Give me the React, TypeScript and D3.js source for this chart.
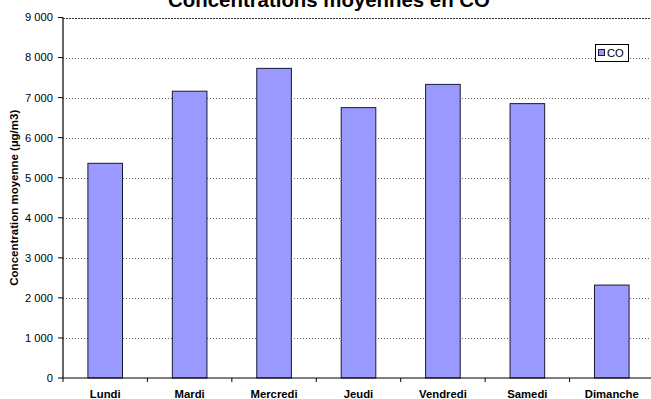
import React from "react";
import * as d3 from "d3";

// Average CO concentration per weekday (µg/m3)
const days = ["Lundi", "Mardi", "Mercredi", "Jeudi", "Vendredi", "Samedi", "Dimanche"];
const coValues = [5360, 7160, 7730, 6750, 7330, 6850, 2320];
const yTicks = [0, 1000, 2000, 3000, 4000, 5000, 6000, 7000, 8000, 9000];
const seriesName = "CO";
const titleText = "Concentrations moyennes en CO";
const yLabel = "Concentration moyenne (µg/m3)";

const W = 651;
const H = 399;
const FONT = "'Liberation Sans', Arial, sans-serif";
const BAR_FILL = "#9999FF";

const fr = d3.formatLocale({ decimal: ",", thousands: "\u00a0", grouping: [3], currency: ["", " €"] });
const fmt = fr.format(",d");

export default function App() {
  const left = 63;
  const right = 654;
  const top = 17.5;
  const bottom = 378;

  const x = d3.scaleBand<string>().domain(days).range([left, right]).paddingInner(0.59).paddingOuter(0.295);
  const step = (right - left) / days.length;
  const y = d3.scaleLinear().domain([0, 9000]).range([bottom, top]);

  const boundaries = d3.range(days.length + 1).map((i) => left + i * step);

  return (
    <svg
      width={W}
      height={H}
      style={{ position: "fixed", left: 0, top: 0, background: "#fff" }}
      fontFamily={FONT}
    >
      <rect x={0} y={0} width={W} height={H} fill="#fff" />

      {/* horizontal gridlines */}
      {yTicks.filter((t) => t > 0).map((t) => (
        <line
          key={"g" + t}
          x1={left}
          x2={W}
          y1={Math.round(y(t)) + 0.5}
          y2={Math.round(y(t)) + 0.5}
          stroke={t === 9000 ? "#333" : "#666"}
          strokeWidth={1}
          strokeDasharray={t === 9000 ? "2,1" : "1,2"}
        />
      ))}

      {/* bars */}
      {days.map((d, i) => (
        <rect
          key={d}
          x={x(d)!}
          y={y(coValues[i])}
          width={x.bandwidth()}
          height={bottom - y(coValues[i])}
          fill={BAR_FILL}
          stroke="#1a1a2e"
          strokeWidth={1}
        />
      ))}

      {/* y axis */}
      <line x1={left} x2={left} y1={top} y2={bottom} stroke="#000" strokeWidth={1.2} />
      {yTicks.map((t) => (
        <g key={"t" + t}>
          <line x1={left - 5} x2={left} y1={y(t)} y2={y(t)} stroke="#000" strokeWidth={1} />
          <text x={left - 10} y={y(t)} dy="0.35em" textAnchor="end" fontSize={11.2} fill="#000">
            {fmt(t)}
          </text>
        </g>
      ))}

      {/* x axis */}
      <line x1={left} x2={W} y1={bottom} y2={bottom} stroke="#000" strokeWidth={1.2} />
      {boundaries.map((bx, i) => (
        <line key={"b" + i} x1={bx} x2={bx} y1={bottom} y2={bottom + 4} stroke="#000" strokeWidth={1} />
      ))}
      {days.map((d) => (
        <text
          key={"l" + d}
          x={x(d)! + x.bandwidth() / 2}
          y={398}
          textAnchor="middle"
          fontSize={11.3}
          fontWeight="bold"
          fill="#000"
        >
          {d}
        </text>
      ))}

      {/* axis title */}
      <text
        transform={`translate(18,${(top + bottom) / 2}) rotate(-90)`}
        textAnchor="middle"
        fontSize={11.5}
        fontWeight="bold"
        fill="#000"
      >
        {yLabel}
      </text>

      {/* chart title */}
      <text x={329} y={7} textAnchor="middle" fontSize={20.4} fontWeight="bold" fill="#000">
        {titleText}
      </text>

      {/* legend */}
      <g>
        <rect x={595.5} y={44.5} width={33} height={17} fill="#fff" stroke="#000" strokeWidth={1} />
        <rect x={598.5} y={49.5} width={6} height={6} fill={BAR_FILL} stroke="#1a1a2e" strokeWidth={1} />
        <text x={607} y={53} dy="0.35em" fontSize={11.2} fill="#000">
          {seriesName}
        </text>
      </g>
    </svg>
  );
}
